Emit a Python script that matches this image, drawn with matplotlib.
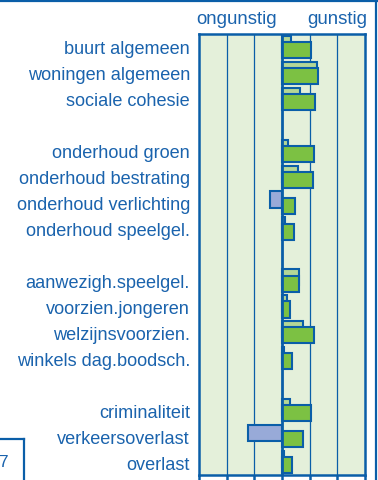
import numpy as np
import matplotlib.pyplot as plt
from matplotlib.lines import Line2D

plt.rcParams['font.family'] = ['Liberation Sans', 'DejaVu Sans']

# rows top to bottom, '' = spacer row between groups
categories = ['buurt algemeen', 'woningen algemeen', 'sociale cohesie', '',
              'onderhoud groen', 'onderhoud bestrating', 'onderhoud verlichting',
              'onderhoud speelgel.', '',
              'aanwezigh.speelgel.', 'voorzien.jongeren', 'welzijnsvoorzien.',
              'winkels dag.boodsch.', '',
              'criminaliteit', 'verkeersoverlast', 'overlast']
vorige = [0.31, 1.25, 0.66, None, 0.22, 0.58, -0.45, 0.10, None,
          0.60, 0.18, 0.76, 0.06, None, 0.30, -1.23, 0.08]
huidige = [1.04, 1.30, 1.19, None, 1.15, 1.13, 0.47, 0.44, None,
           0.63, 0.30, 1.16, 0.37, None, 1.04, 0.76, 0.37]

BLUE = '#0a5ea8'
TXT = '#1a63ad'
BG = '#e4f0da'
LIGHT = '#b4d796'
GREEN = '#7cc143'
LILAC = '#98aad8'

W, H = 378, 481
fig = plt.figure(figsize=(W / 100, H / 100), dpi=100)
ax = fig.add_axes([199 / W, 5 / H, 166 / W, 441 / H])
ax.set_facecolor(BG)

y = np.arange(len(categories))
bh = 0.62
off = 0.12
for i, (a, b) in enumerate(zip(vorige, huidige)):
    if a is None:
        continue
    ax.barh(y[i] - off, a, height=bh, color=LIGHT if a >= 0 else LILAC,
            edgecolor=BLUE, linewidth=1.5, zorder=3)
    ax.barh(y[i] + off, b, height=bh, color=GREEN if b >= 0 else LILAC,
            edgecolor=BLUE, linewidth=1.5, zorder=4)

for gx in [-2, -1, 1, 2]:
    ax.axvline(gx, color=BLUE, lw=0.9, zorder=1)
ax.axvline(0, color=BLUE, lw=2.0, zorder=5)

ax.set_xlim(-3, 3)
ax.set_ylim(len(categories) - 0.5, -0.5)
ax.set_xticks(np.arange(-3, 4))
ax.set_xticklabels([])
ax.tick_params(axis='x', direction='out', length=5, width=1.8, color=BLUE)
ax.set_yticks(y)
ax.set_yticklabels(categories, fontsize=13.1, color=TXT)
ax.tick_params(axis='y', length=0, pad=6.5)
for s in ax.spines.values():
    s.set_color(BLUE)
    s.set_linewidth(1.8)
    s.set_zorder(6)

fig.text(196 / W, 1 - 24.5 / H, 'ongunstig', ha='left', va='baseline',
         fontsize=13.4, color=TXT)
fig.text(367 / W, 1 - 24.5 / H, 'gunstig', ha='right', va='baseline',
         fontsize=13.4, color=TXT)

# page frame and page-number box
fx = lambda px: px / W
fy = lambda px: 1 - px / H
fig.add_artist(Line2D([0, fx(377)], [fy(1.5), fy(1.5)], color=BLUE, lw=1.6))
fig.add_artist(Line2D([fx(376), fx(376)], [fy(0), fy(481)], color=BLUE, lw=1.6))
fig.add_artist(Line2D([0, fx(24)], [fy(440), fy(440)], color=BLUE, lw=1.6))
fig.add_artist(Line2D([fx(24), fx(24)], [fy(440), fy(481)], color=BLUE, lw=1.6))
fig.text(fx(7.5), fy(467), '7', ha='right', va='baseline', fontsize=12.5,
         color=TXT)

fig.savefig('out.png', dpi=100)
